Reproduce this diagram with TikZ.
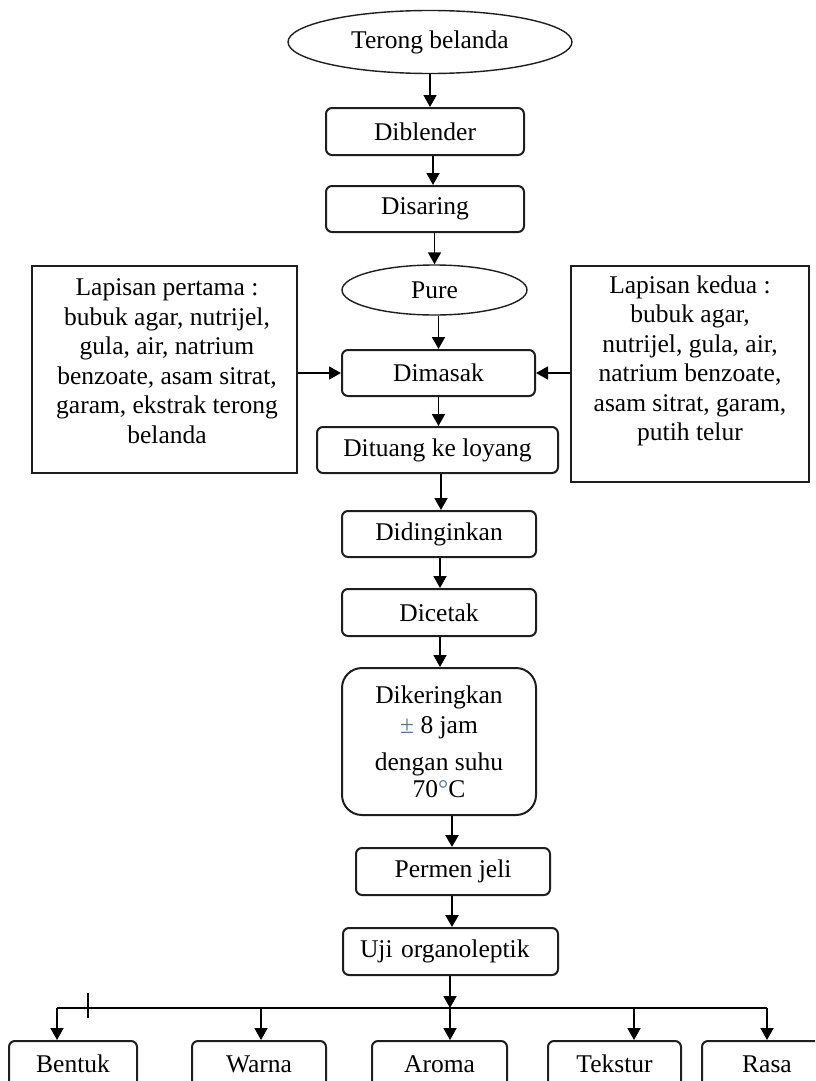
\documentclass[tikz,border=0pt]{standalone}
\usepackage{fontspec}
\setmainfont{Liberation Serif}
\usetikzlibrary{shapes.geometric,arrows.meta}
\definecolor{pmblue}{HTML}{5A7896}
\definecolor{edge}{HTML}{1E1E1E}
\tikzset{
  every node/.style={font=\fontsize{25.5}{29.5}\selectfont, text=black},
  box/.style={draw=edge, line width=2pt, rounded corners=6pt, inner sep=0pt},
  oval/.style={draw=edge, ellipse, line width=1.4pt, inner sep=0pt},
  plainbox/.style={draw=edge, line width=1.9pt, inner sep=0pt},
  txt/.style={align=center, inner sep=0pt},
  conn/.style={draw=black, line width=1.8pt},
  arr/.style={conn, -{Triangle[width=13pt,length=12pt]}},
  thickarr/.style={arr, line width=2.6pt},
}
\begin{document}
\begin{tikzpicture}[x=1pt,y=-1pt]
\useasboundingbox (0,0) rectangle (815,1081);
\clip (0,0) rectangle (815,1081);

% main column
\node[oval, minimum width=284pt, minimum height=63pt] (terong) at (430,42) {Terong belanda};
\node[box, minimum width=198pt, minimum height=47pt] (diblender) at (425,131.5) {Diblender};
\node[box, minimum width=198pt, minimum height=46pt] (disaring) at (425,209) {Disaring};
\node[oval, minimum width=185pt, minimum height=50pt] (pure) at (434.5,290) {Pure};
\node[box, minimum width=193pt, minimum height=46pt] (dimasak) at (438.5,373) {Dimasak};
\node[box, minimum width=241pt, minimum height=46pt] (dituang) at (437.5,450) {Dituang ke loyang};
\node[box, minimum width=194pt, minimum height=46pt] (didinginkan) at (439,534) {Didinginkan};
\node[box, minimum width=194pt, minimum height=47pt] (dicetak) at (439,612.5) {Dicetak};
\node[box, rounded corners=20pt, minimum width=194pt, minimum height=147pt, align=center] (dikeringkan) at (439,741.5)
  {Dikeringkan\\[0.5pt]{\color{pmblue}±} 8 jam\\[7.5pt]dengan suhu\\[-2.5pt]70{\color{pmblue}°}C};
\node[box, minimum width=194pt, minimum height=47pt] (permen) at (453,871.5) {Permen jeli};
\node[box, minimum width=215pt, minimum height=47pt, text width=181pt, align=left, inner xsep=17pt] (uji) at (450.5,951.5) {Uji organoleptik};

% side boxes
\node[plainbox, minimum width=265pt, minimum height=207pt] (lbox) at (164.5,369.5) {};
\node[txt] (ltext) at (167,361) {Lapisan pertama :\\bubuk agar, nutrijel,\\gula, air, natrium\\benzoate, asam sitrat,\\garam, ekstrak terong\\belanda};
\node[plainbox, minimum width=238pt, minimum height=216pt] (rbox) at (690,374) {};
\node[txt] (rtext) at (690,361) {Lapisan kedua :\\bubuk agar,\\nutrijel, gula, air,\\natrium benzoate,\\asam sitrat, garam,\\putih telur};

% bottom row
\node[box, minimum width=128pt, minimum height=46pt] (bentuk) at (73,1064) {Bentuk};
\node[box, minimum width=134pt, minimum height=46pt] (warna) at (259,1064) {Warna};
\node[box, minimum width=135pt, minimum height=46pt] (aroma) at (439.5,1064) {Aroma};
\node[box, minimum width=133pt, minimum height=46pt] (tekstur) at (614.5,1064) {Tekstur};
\node[box, minimum width=130pt, minimum height=46pt] (rasa) at (767,1064) {Rasa};

% connectors main column
\draw[arr] (terong.south) -- (terong.south |- diblender.north);
\draw[arr] ([xshift=8pt]diblender.south) -- ([xshift=8pt]diblender.south |- disaring.north);
\draw[arr] (pure.north |- disaring.south) -- (pure.north);
\draw[arr] (dimasak.north |- pure.south) -- (dimasak.north);
\draw[arr] (dimasak.south) -- (dimasak.south |- dituang.north);
\draw[arr] ([xshift=2pt]didinginkan.north |- dituang.south) -- ([xshift=2pt]didinginkan.north);
\draw[arr] ([xshift=1pt]didinginkan.south) -- ([xshift=1pt]didinginkan.south |- dicetak.north);
\draw[arr] ([xshift=1pt]dicetak.south) -- ([xshift=1pt]dicetak.south |- dikeringkan.north);
\draw[thickarr] ([xshift=-1pt]permen.north |- dikeringkan.south) -- ([xshift=-1pt]permen.north);
\draw[thickarr] ([xshift=-1pt]permen.south) -- ([xshift=-1pt]permen.south |- uji.north);

% side inputs
\draw[arr] (lbox.east |- dimasak) -- (dimasak.west);
\draw[arr] (rbox.west |- dimasak) -- (dimasak.east);

% branching to tests
\coordinate (hL) at (57,1008);
\coordinate (hR) at (767,1008);
\coordinate (hub) at (450,1008);
\coordinate (tk) at (634,1008);
\coordinate (wn) at (261,1008);
\draw[conn] (hL) -- (hR);
\draw[conn] (88,993) -- (88,1018);
\draw[arr] (uji.south -| hub) -- (hub);
\draw[arr] (hL) -- (hL |- bentuk.north);
\draw[arr] (wn) -- (wn |- warna.north);
\draw[arr] (hub) -- (hub |- aroma.north);
\draw[arr] (tk) -- (tk |- tekstur.north);
\draw[arr] (hR) -- (hR |- rasa.north);
\end{tikzpicture}
\end{document}
